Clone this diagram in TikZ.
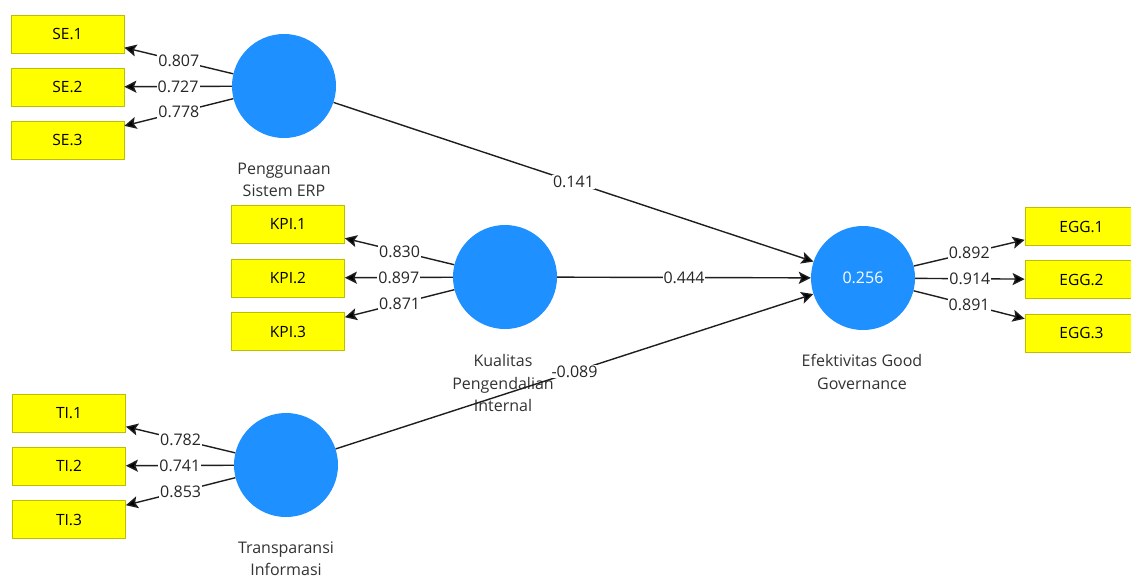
\documentclass[tikz,border=0pt]{standalone}
\usepackage{fontspec}
\setmainfont{Open Sans}
\usetikzlibrary{arrows.meta}
\definecolor{lvblue}{RGB}{30,144,255}
\definecolor{mvyellow}{RGB}{255,255,0}
\definecolor{mvborder}{RGB}{190,190,0}
\definecolor{edgegray}{RGB}{30,30,30}
\begin{document}
\begin{tikzpicture}[x=1pt,y=-1pt,
  font=\fontsize{16}{22.5}\selectfont,
  latent/.style={circle,fill=lvblue,draw=none,minimum size=104pt,inner sep=0pt,text=white},
  manifest/.style={rectangle,fill=mvyellow,draw=mvborder,line width=0.8pt,minimum width=113pt,minimum height=38pt,inner sep=0pt,font=\fontsize{15.5}{20}\selectfont},
  conn/.style={draw=edgegray,line width=1.4pt,-{Stealth[length=12pt,width=12pt,inset=2.5pt,fill=black]}},
  wt/.style={midway,fill=white,inner sep=1pt,text=black!85},
  lvlabel/.style={align=center,text=black!80}
]
\useasboundingbox (0,0) rectangle (1131,579);
\clip (0,0) rectangle (1131,579);
\fill[white] (0,0) rectangle (1131,579);

% latent variables
\node[latent] (se) at (284,86) {};
\node[latent] (kpi) at (505,277) {};
\node[latent] (ti) at (286,465) {};
\node[latent] (egg) at (863,278) {0.256};

% indicators
\node[manifest] (se1) at (67.5,34) {SE.1};
\node[manifest] (se2) at (67.5,87) {SE.2};
\node[manifest] (se3) at (67.5,140) {SE.3};
\node[manifest] (kpi1) at (288,224.5) {KPI.1};
\node[manifest] (kpi2) at (288,278) {KPI.2};
\node[manifest] (kpi3) at (288,331.5) {KPI.3};
\node[manifest] (ti1) at (69,413) {TI.1};
\node[manifest] (ti2) at (69,466) {TI.2};
\node[manifest] (ti3) at (69,519.5) {TI.3};
\node[manifest] (egg1) at (1081.5,226.5) {EGG.1};
\node[manifest] (egg2) at (1081.5,279.5) {EGG.2};
\node[manifest] (egg3) at (1081.5,333) {EGG.3};

% latent labels
\node[lvlabel] (lse) at (284,180) {Penggunaan\\Sistem ERP};
\node[lvlabel] (lkpi) at (503,383) {Kualitas\\Pengendalian\\Internal};
\node[lvlabel] (legg) at (862,372) {Efektivitas Good\\Governance};
\node[lvlabel] (lti) at (286,558.5) {Transparansi\\Informasi};

% outer loadings
\draw[conn] (se) -- node[wt] {0.807} (se1);
\draw[conn] (se) -- node[wt] {0.727} (se2);
\draw[conn] (se) -- node[wt] {0.778} (se3);
\draw[conn] (kpi) -- node[wt] {0.830} (kpi1);
\draw[conn] (kpi) -- node[wt] {0.897} (kpi2);
\draw[conn] (kpi) -- node[wt] {0.871} (kpi3);
\draw[conn] (ti) -- node[wt] {0.782} (ti1);
\draw[conn] (ti) -- node[wt] {0.741} (ti2);
\draw[conn] (ti) -- node[wt] {0.853} (ti3);
\draw[conn] (egg) -- node[wt] {0.892} (egg1);
\draw[conn] (egg) -- node[wt] {0.914} (egg2);
\draw[conn] (egg) -- node[wt] {0.891} (egg3);

% structural paths
\draw[conn] (se) -- node[wt] {0.141} (egg);
\draw[conn] (kpi) -- node[wt] {0.444} (egg);
\draw[conn] (ti) -- node[wt] {-0.089} (egg);
\end{tikzpicture}
\end{document}
